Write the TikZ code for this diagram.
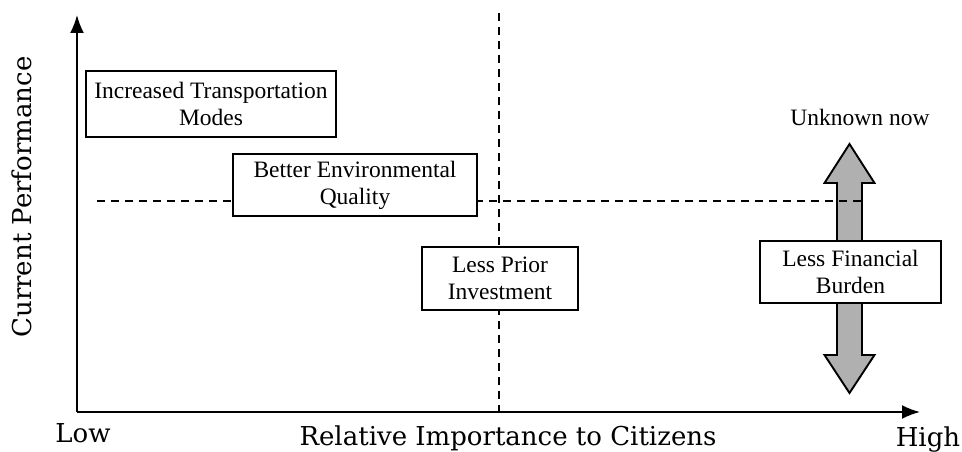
\documentclass[tikz,border=0pt]{standalone}
\usepackage{fontspec}
\setmainfont{Liberation Serif}
\newfontfamily\axisfont{DejaVu Serif}
\usetikzlibrary{arrows.meta}
\tikzset{factor/.style={draw=black,line width=1.9pt,fill=white,align=center,inner sep=0pt,font=\fontsize{23.5}{27}\selectfont},
         axis/.style={line width=1.9pt,-{Latex[length=18pt,width=14pt]}},
         guide/.style={line width=1.9pt,dash pattern=on 8pt off 6pt},
         axislabel/.style={font=\axisfont\fontsize{26}{30}\selectfont,inner sep=0pt}}

\begin{document}
\begin{tikzpicture}[x=1pt,y=1pt]
  \useasboundingbox (0,0) rectangle (962,451);
  \coordinate (origin) at (77,39);
  \coordinate (ytip) at (77,436);
  \coordinate (xtip) at (920,39);
  \draw[axis] (origin) -- (ytip);
  \draw[axis] (origin) -- (xtip);
  \filldraw[fill=gray!62,line width=1.9pt,line join=miter]
    (849.5,307) -- (874.5,268) -- (862,268) -- (862,96) -- (874.5,96) -- (849.5,58)
    -- (824.5,96) -- (837,96) -- (837,268) -- (824.5,268) -- cycle;
  \coordinate (hleft) at (97,250);
  \coordinate (hright) at (862,250);
  \coordinate (vtop) at (499,438);
  \coordinate (vbottom) at (499,39);
  \draw[guide] (hleft) -- (hright);
  \draw[guide] (vtop) -- (vbottom);
  \node[factor,minimum width=250pt,minimum height=66pt] (transport) at (211,347) {Increased Transportation\\Modes};
  \node[factor,minimum width=244pt,minimum height=62pt] (environment) at (355,266) {Better Environmental\\Quality};
  \node[factor,minimum width=156pt,minimum height=63pt] (investment) at (500,172.5) {Less Prior\\Investment};
  \node[factor,minimum width=181pt,minimum height=62pt] (burden) at (850.5,179) {Less Financial\\Burden};
  \node[font=\fontsize{23.5}{27}\selectfont,inner sep=0pt] (unknown) at (860,334) {Unknown now};
  \node[axislabel,anchor=base] (low) at (83,9) {Low};
  \node[axislabel,anchor=base] (high) at (928,5) {High};
  \node[axislabel,anchor=base] (importance) at (508,6) {Relative Importance to Citizens};
  \node[axislabel,rotate=90] (performance) at (22,254) {Current Performance};
\end{tikzpicture}
\end{document}
